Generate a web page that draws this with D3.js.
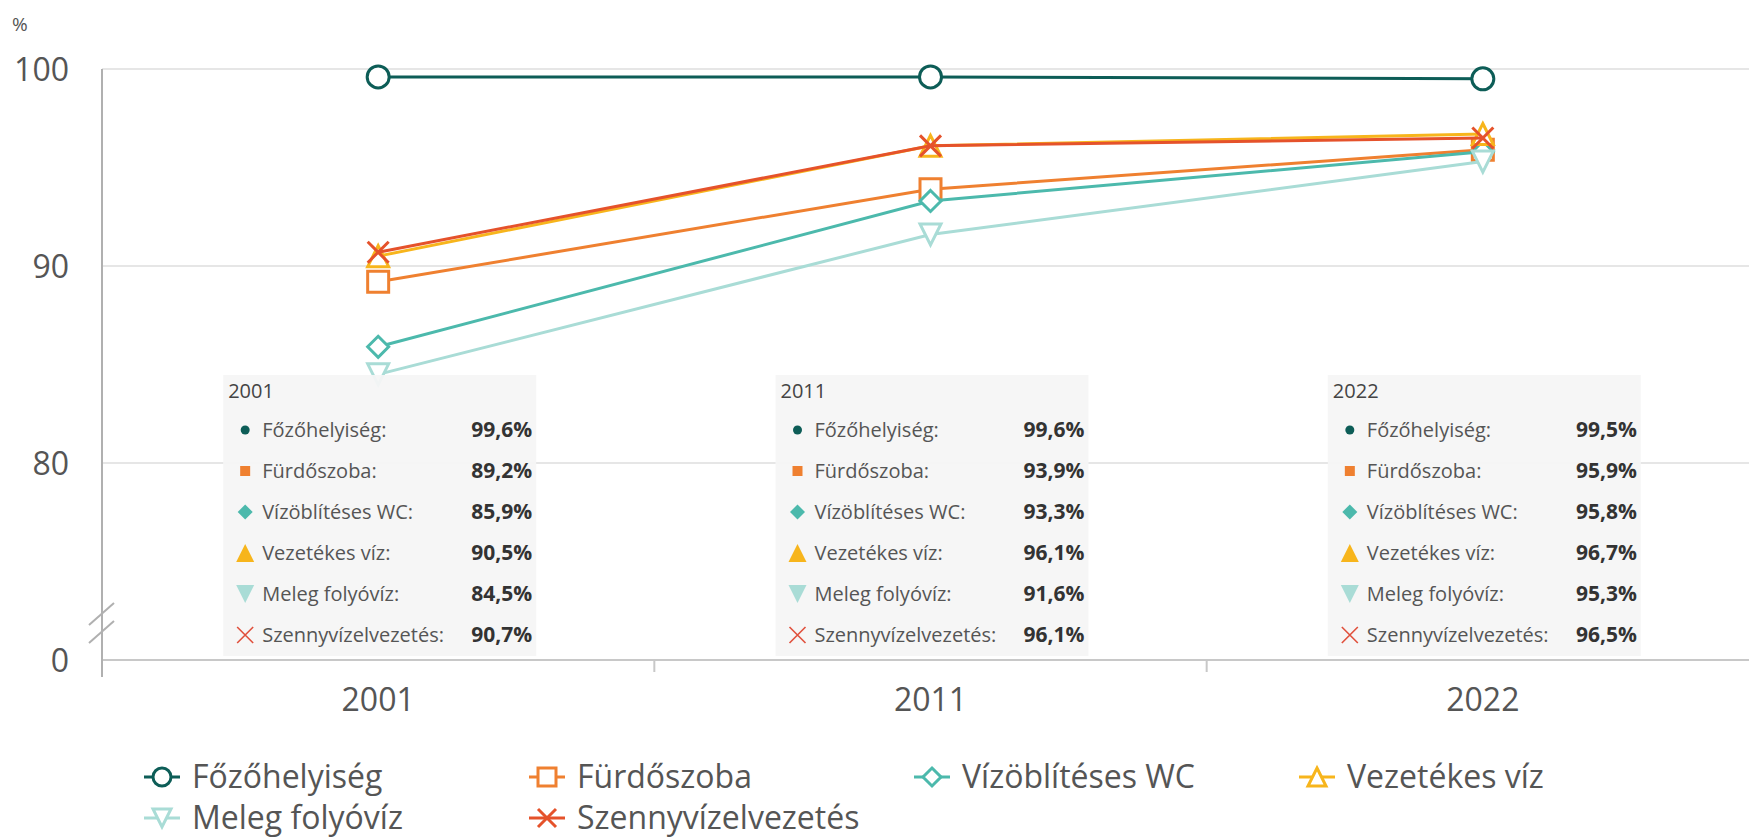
<html>
<head>
<meta charset="utf-8">
<style>
body { margin: 0; background: #fff; }
text { font-family: "Open Sans", sans-serif; }
.grid { stroke: #e6e6e6; stroke-width: 2px; }
.axis-line { stroke: #b0b0b0; stroke-width: 2px; fill: none; }
.tick-label { fill: #555; font-size: 32px; }
.legend-label { fill: #555; font-size: 32px; }
.tip-bg { fill: rgba(245,245,245,0.94); }
.tip-title { fill: #444; font-size: 20px; }
.tip-label { fill: #555; font-size: 20px; }
.tip-value { fill: #333; font-size: 21px; font-weight: bold; }
</style>
</head>
<body>
<script src="https://d3js.org/d3.v7.min.js"></script>
<script>

// data
var years = ["2001", "2011", "2022"];
var seriesNames = ["Főzőhelyiség", "Fürdőszoba", "Vízöblítéses WC", "Vezetékes víz", "Meleg folyóvíz", "Szennyvízelvezetés"];
var fozo   = [99.6, 99.6, 99.5];
var furdo  = [89.2, 93.9, 95.9];
var wc     = [85.9, 93.3, 95.8];
var viz    = [90.5, 96.1, 96.7];
var meleg  = [84.5, 91.6, 95.3];
var szenny = [90.7, 96.1, 96.5];
var yTicks = [0, 80, 90, 100];

var colors  = ["#0d5d57", "#ef8030", "#4cb9ac", "#f7b51c", "#a9dcd6", "#e5522b"];
var symbols = ["circle", "square", "diamond", "triangle", "triangleDown", "cross"];

var series = [fozo, furdo, wc, viz, meleg, szenny].map(function(v, i){
	return { name: seriesNames[i], values: v, color: colors[i], symbol: symbols[i] };
});

var width = 1749, height = 837;

var svg = d3.select("body").append("svg")
	.attr("width", width)
	.attr("height", height);

var x = d3.scaleBand().domain(years).range([102, 1759]);
// broken axis: 0 sits just below the 80 line
var y = d3.scaleLinear().domain([0, 80, 100]).range([660, 463, 69]);

function markerPath(type, r){
	switch(type){
		case "circle": return "M" + (-r) + ",0A" + r + "," + r + " 0 1,0 " + r + ",0A" + r + "," + r + " 0 1,0 " + (-r) + ",0Z";
		case "square": return "M" + (-r) + "," + (-r) + "H" + r + "V" + r + "H" + (-r) + "Z";
		case "diamond": return "M0," + (-r) + "L" + r + ",0L0," + r + "L" + (-r) + ",0Z";
		case "triangle": return "M0," + (-r) + "L" + r + "," + r + "L" + (-r) + "," + r + "Z";
		case "triangleDown": return "M" + (-r) + "," + (-r) + "L" + r + "," + (-r) + "L0," + r + "Z";
		case "cross": return "M" + (-r) + "," + (-r) + "L" + r + "," + r + "M" + r + "," + (-r) + "L" + (-r) + "," + r;
	}
}

// grid
svg.append("g").selectAll("line")
	.data(yTicks.filter(function(d){ return d > 0; }))
	.enter().append("line")
	.attr("class", "grid")
	.attr("x1", 102).attr("x2", width)
	.attr("y1", function(d){ return y(d); })
	.attr("y2", function(d){ return y(d); });

// x axis line + ticks
svg.append("line").attr("class", "axis-line")
	.attr("x1", 102).attr("x2", width)
	.attr("y1", y(0)).attr("y2", y(0))
	.style("stroke", "#c8c8c8");

svg.append("g").selectAll("line")
	.data(years.slice(1))
	.enter().append("line")
	.attr("class", "axis-line")
	.style("stroke", "#c8c8c8")
	.attr("x1", function(d){ return x(d); })
	.attr("x2", function(d){ return x(d); })
	.attr("y1", y(0)).attr("y2", y(0) + 12);

// y axis line
svg.append("line").attr("class", "axis-line")
	.attr("x1", 102).attr("x2", 102)
	.attr("y1", y(100)).attr("y2", y(0) + 17);

// axis break marks
var breakY = y(0) - 37;
[-9, 9].forEach(function(off){
	svg.append("line").attr("class", "axis-line")
		.attr("x1", 89).attr("y1", breakY + off + 11)
		.attr("x2", 114).attr("y2", breakY + off - 11);
});

// tick labels
svg.append("g").selectAll("text")
	.data(yTicks)
	.enter().append("text")
	.attr("class", "tick-label")
	.attr("x", 69)
	.attr("y", function(d){ return y(d); })
	.attr("dy", "0.36em")
	.attr("text-anchor", "end")
	.text(function(d){ return d; });

svg.append("g").selectAll("text")
	.data(years)
	.enter().append("text")
	.attr("class", "tick-label")
	.attr("x", function(d){ return x(d) + x.bandwidth() / 2; })
	.attr("y", 711)
	.attr("text-anchor", "middle")
	.text(function(d){ return d; });

svg.append("text").attr("x", 12).attr("y", 31)
	.style("font-size", "19px").style("fill", "#555")
	.text("%");

// lines and markers
var line = d3.line()
	.x(function(d, i){ return x(years[i]) + x.bandwidth() / 2; })
	.y(function(d){ return y(d); });

var plot = svg.append("g");
series.forEach(function(s){
	var g = plot.append("g");
	g.append("path")
		.attr("d", line(s.values))
		.attr("fill", "none")
		.attr("stroke", s.color)
		.attr("stroke-width", 3);
	g.selectAll("path.marker")
		.data(s.values)
		.enter().append("path")
		.attr("class", "marker")
		.attr("transform", function(d, i){ return "translate(" + (x(years[i]) + x.bandwidth() / 2) + "," + y(d) + ")"; })
		.attr("d", markerPath(s.symbol, s.symbol == "circle" ? 11 : 10.5))
		.attr("fill", s.symbol == "cross" ? "none" : "#fff")
		.attr("stroke", s.color)
		.attr("stroke-width", 3);
});

// tooltips for each year
var fmt = function(v){ return v.toFixed(1).replace(".", ",") + "%"; };
var tipW = 313, tipH = 281, tipTop = 375;

years.forEach(function(yr, j){
	var cx = x(yr) + x.bandwidth() / 2;
	var t = svg.append("g").attr("transform", "translate(" + (cx - 155) + "," + tipTop + ")");
	t.append("rect").attr("class", "tip-bg")
		.attr("width", tipW).attr("height", tipH);
	t.append("text").attr("class", "tip-title")
		.attr("x", 5).attr("y", 23).text(yr);
	var rows = t.selectAll("g.row")
		.data(series)
		.enter().append("g")
		.attr("class", "row")
		.attr("transform", function(d, i){ return "translate(0," + (55 + i * 41) + ")"; });
	rows.append("path")
		.attr("transform", "translate(22,0)")
		.attr("d", function(d){
			var r = { circle: 4.5, square: 5, diamond: 7.5, triangle: 9, triangleDown: 9, cross: 8 }[d.symbol];
			return markerPath(d.symbol, r);
		})
		.attr("fill", function(d){ return d.symbol == "cross" ? "none" : d.color; })
		.attr("stroke", function(d){ return d.symbol == "cross" ? "#e0503c" : "none"; })
		.attr("stroke-width", 1.6);
	rows.append("text").attr("class", "tip-label")
		.attr("x", 39).attr("dy", "0.35em")
		.text(function(d){ return d.name + ":"; });
	rows.append("text").attr("class", "tip-value")
		.attr("x", tipW - 4).attr("dy", "0.35em")
		.attr("text-anchor", "end")
		.text(function(d){ return fmt(d.values[j]); });
});

// legend
var legend = svg.append("g").selectAll("g")
	.data(series)
	.enter().append("g")
	.attr("transform", function(d, i){ return "translate(" + (162 + (i % 4) * 385) + "," + (777 + Math.floor(i / 4) * 41) + ")"; });

legend.append("line")
	.attr("x1", -18).attr("x2", 18)
	.attr("stroke", function(d){ return d.color; })
	.attr("stroke-width", 3);
legend.append("path")
	.attr("d", function(d){ return markerPath(d.symbol, 9); })
	.attr("fill", function(d){ return d.symbol == "cross" ? "none" : "#fff"; })
	.attr("stroke", function(d){ return d.color; })
	.attr("stroke-width", 3);
legend.append("text").attr("class", "legend-label")
	.attr("x", 30).attr("dy", "0.35em")
	.text(function(d){ return d.name; });

</script>
</body>
</html>
